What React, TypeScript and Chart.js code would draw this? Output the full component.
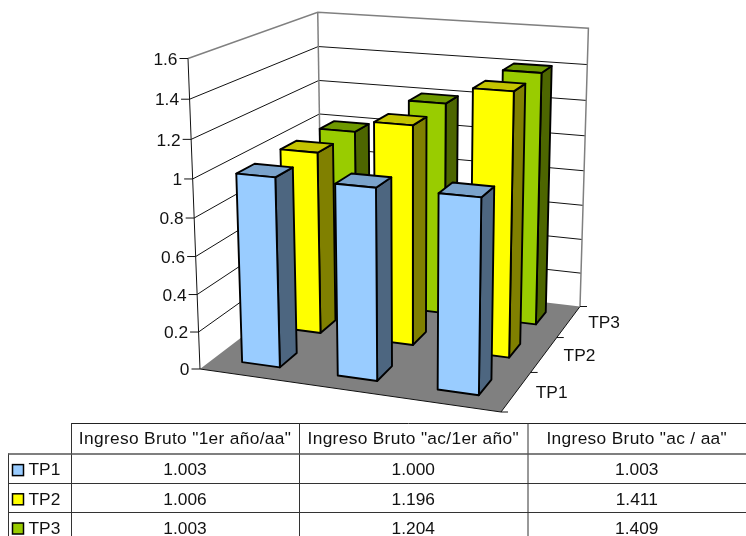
import React, { useEffect, useRef } from "react";
import { Chart, BarController, BarElement, CategoryScale, LinearScale } from "chart.js";

const categories = ['Ingreso Bruto "1er año/aa"', 'Ingreso Bruto "ac/1er año"', 'Ingreso Bruto "ac / aa"'];
const seriesNames = ["TP1", "TP2", "TP3"];
const tp1Values = [1.003, 1.0, 1.003];
const tp2Values = [1.006, 1.196, 1.411];
const tp3Values = [1.003, 1.204, 1.409];
const frontColors = ["#99CCFF", "#FFFF00", "#99CC00"];
const topColors = ["#7AA3CC", "#C4C400", "#6E9900"];
const sideColors = ["#4D6680", "#808000", "#4D6600"];

const FONT = '"Liberation Sans", Arial, sans-serif';
const FONT_PX = 17.33;

// Projected corners of the unit plot box (layout only)
const O = [200, 369];
const PX = [501, 412];
const PY = [188, 58.5];
const PZ = [322, 276];
const F = [580, 306.5];
const WY = 0.9465;

function solveWeights() {
  const a = F[0] - PX[0], b = F[0] - PZ[0], c = F[0] - O[0];
  const d = F[1] - PX[1], e = F[1] - PZ[1], f = F[1] - O[1];
  const det = a * e - b * d;
  return { wx: (c * e - b * f) / det, wz: (a * f - c * d) / det };
}
const { wx: WX, wz: WZ } = solveWeights();

function project(X: number, Y: number, Z: number): [number, number] {
  const w = 1 + X * (WX - 1) + Y * (WY - 1) + Z * (WZ - 1);
  const hx = O[0] + X * (WX * PX[0] - O[0]) + Y * (WY * PY[0] - O[0]) + Z * (WZ * PZ[0] - O[0]);
  const hy = O[1] + X * (WX * PX[1] - O[1]) + Y * (WY * PY[1] - O[1]) + Z * (WZ * PZ[1] - O[1]);
  return [hx / w, hy / w];
}

function poly(ctx: CanvasRenderingContext2D, pts: [number, number][], fill?: string, stroke?: string, lw = 1) {
  ctx.beginPath();
  pts.forEach((p, i) => (i ? ctx.lineTo(p[0], p[1]) : ctx.moveTo(p[0], p[1])));
  if (fill) {
    ctx.closePath();
    ctx.fillStyle = fill;
    ctx.fill();
  }
  if (stroke) {
    ctx.strokeStyle = stroke;
    ctx.lineWidth = lw;
    ctx.stroke();
  }
}

class Bar3DController extends BarController {
  static id = "bar3d";
  static defaults = { ...BarController.defaults };
  static overrides = BarController.overrides;
  draw() {
    const chart = this.chart;
    const ctx = chart.ctx;
    const meta = this.getMeta();
    const xs = chart.scales.x;
    const ys = chart.scales.y;
    const ds = chart.scales.depth;
    const zC = (ds.getPixelForValue(this.index) - ds.left) / ds.width;
    ctx.save();
    ctx.lineJoin = "round";
    meta.data.forEach((el: any) => {
      const x0 = (el.x - el.width / 2 - xs.left) / xs.width;
      const x1 = (el.x + el.width / 2 - xs.left) / xs.width;
      const hz = el.width / xs.width / 2;
      const z0 = zC - hz;
      const z1 = zC + hz;
      const h = (ys.bottom - el.y) / ys.height;
      const S = "#000000";
      const LW = 1.9;
      poly(ctx, [project(x1, 0, z0), project(x1, 0, z1), project(x1, h, z1), project(x1, h, z0)], sideColors[this.index], S, LW);
      poly(ctx, [project(x0, h, z0), project(x1, h, z0), project(x1, h, z1), project(x0, h, z1)], topColors[this.index], S, LW);
      poly(ctx, [project(x0, 0, z0), project(x1, 0, z0), project(x1, h, z0), project(x0, h, z0)], frontColors[this.index], S, LW);
    });
    ctx.restore();
  }
}

const boxPlugin = {
  id: "box3d",
  beforeDatasetsDraw(chart: any) {
    const ctx: CanvasRenderingContext2D = chart.ctx;
    const ys = chart.scales.y;
    const ds = chart.scales.depth;
    ctx.save();
    // floor
    poly(ctx, [project(0, 0, 0), project(1, 0, 0), project(1, 0, 1), project(0, 0, 1)], "#808080");
    // gridlines
    ys.ticks.forEach((t: any) => {
      const Y = (ys.bottom - ys.getPixelForValue(t.value)) / ys.height;
      if (t.value > 0 && t.value < ys.max) {
        poly(ctx, [project(0, Y, 0), project(0, Y, 1), project(1, Y, 1)], undefined, "#111111", 1);
      }
      const p = project(0, Y, 0);
      poly(ctx, [[p[0] - 8.5, p[1]], p], undefined, "#111111", 1);
      ctx.fillStyle = "#111111";
      ctx.font = `${FONT_PX}px ${FONT}`;
      ctx.textAlign = "right";
      ctx.textBaseline = "middle";
      ctx.fillText(t.label, p[0] - 10.5, p[1] + 1.5);
    });
    // box edges
    poly(ctx, [project(0, 1, 0), project(0, 1, 1), project(1, 1, 1), project(1, 0, 1)], undefined, "#808080", 1.5);
    poly(ctx, [project(0, 1, 1), project(0, 0, 1)], undefined, "#808080", 1.5);
    poly(ctx, [project(0, 1, 0), project(0, 0, 0), project(1, 0, 0), project(1, 0, 1)], undefined, "#111111", 1);
    // depth axis
    for (let k = 0; k <= seriesNames.length; k++) {
      const p = project(1, 0, k / seriesNames.length);
      poly(ctx, [p, [p[0] + 7, p[1]]], undefined, "#111111", 1);
    }
    seriesNames.forEach((name, i) => {
      const Z = (ds.getPixelForValue(i) - ds.left) / ds.width;
      const p = project(1, 0, Z);
      ctx.fillStyle = "#111111";
      ctx.font = `${FONT_PX}px ${FONT}`;
      ctx.textAlign = "left";
      ctx.textBaseline = "middle";
      ctx.fillText(name, p[0] + 19.5, p[1] + 1.5);
    });
    ctx.restore();
  },
  afterDraw(chart: any) {
    const ctx: CanvasRenderingContext2D = chart.ctx;
    const colX = [71, 299, 527.5, 746];
    const top = 423;
    const hdr = 453.5;
    const rowH = 29.2;
    const lastY = 536;
    ctx.save();
    ctx.lineCap = "butt";
    const rows = [tp1Values, tp2Values, tp3Values];
    poly(ctx, [[colX[0], top + 0.5], [746, top + 0.5]], undefined, "#222222", 1);
    colX.slice(0, 3).forEach((x) => poly(ctx, [[x + 0.5, top], [x + 0.5, lastY]], undefined, "#333333", 1));
    poly(ctx, [[8.5, hdr], [8.5, lastY]], undefined, "#333333", 1);
    poly(ctx, [[8, hdr + 0.5], [746, hdr + 0.5]], undefined, "#555555", 1.6);
    for (let r = 1; r < rows.length; r++) {
      const y = Math.round(hdr + r * rowH) + 0.5;
      poly(ctx, [[8, y], [746, y]], undefined, "#333333", 1);
    }
    ctx.fillStyle = "#111111";
    ctx.font = `${FONT_PX}px ${FONT}`;
    ctx.textBaseline = "middle";
    ctx.textAlign = "center";
    (ctx as any).letterSpacing = "0.32px";
    categories.forEach((c, j) => ctx.fillText(c, (colX[j] + colX[j + 1]) / 2, (top + hdr) / 2 + 0.5));
    (ctx as any).letterSpacing = "0px";
    rows.forEach((vals, r) => {
      const cy = hdr + (r + 0.5) * rowH + 2.5;
      vals.forEach((v, j) => {
        ctx.fillStyle = "#111111";
        ctx.textAlign = "center";
        ctx.fillText(v.toFixed(3), (colX[j] + colX[j + 1]) / 2, cy);
      });
      ctx.fillStyle = frontColors[r];
      ctx.fillRect(12.5, cy - 6, 11, 11);
      ctx.strokeStyle = "#000";
      ctx.lineWidth = 1.5;
      ctx.strokeRect(12.5, cy - 6, 11, 11);
      ctx.fillStyle = "#111111";
      ctx.textAlign = "left";
      ctx.fillText(seriesNames[r], 28.5, cy);
    });
    ctx.restore();
  },
};

Chart.register(Bar3DController, BarElement, CategoryScale, LinearScale);

export default function App() {
  const ref = useRef<HTMLCanvasElement>(null);
  useEffect(() => {
    const chart = new Chart(ref.current!, {
      type: "bar3d" as any,
      data: {
        labels: categories,
        datasets: [tp1Values, tp2Values, tp3Values].map((data, i) => ({
          label: seriesNames[i],
          data,
          backgroundColor: frontColors[i],
          grouped: false,
          barPercentage: 0.4,
          categoryPercentage: 1,
          clip: false,
        })) as any,
      },
      options: {
        responsive: false,
        animation: false,
        events: [],
        layout: { padding: { left: 188, right: 245, top: 58, bottom: 167 } },
        plugins: { legend: { display: false }, tooltip: { enabled: false } },
        scales: {
          x: { type: "category", offset: true, display: false },
          y: {
            type: "linear",
            min: 0,
            max: 1.6,
            display: false,
            ticks: { stepSize: 0.2, callback: (v: any) => String(+Number(v).toFixed(1)) },
          },
          depth: { type: "category", axis: "x", labels: seriesNames, offset: true, display: false },
        },
      } as any,
      plugins: [boxPlugin],
    });
    return () => chart.destroy();
  }, []);
  return (
    <canvas
      ref={ref}
      width={746}
      height={536}
      style={{ position: "fixed", left: 0, top: 0, display: "block", background: "#fff" }}
    />
  );
}
